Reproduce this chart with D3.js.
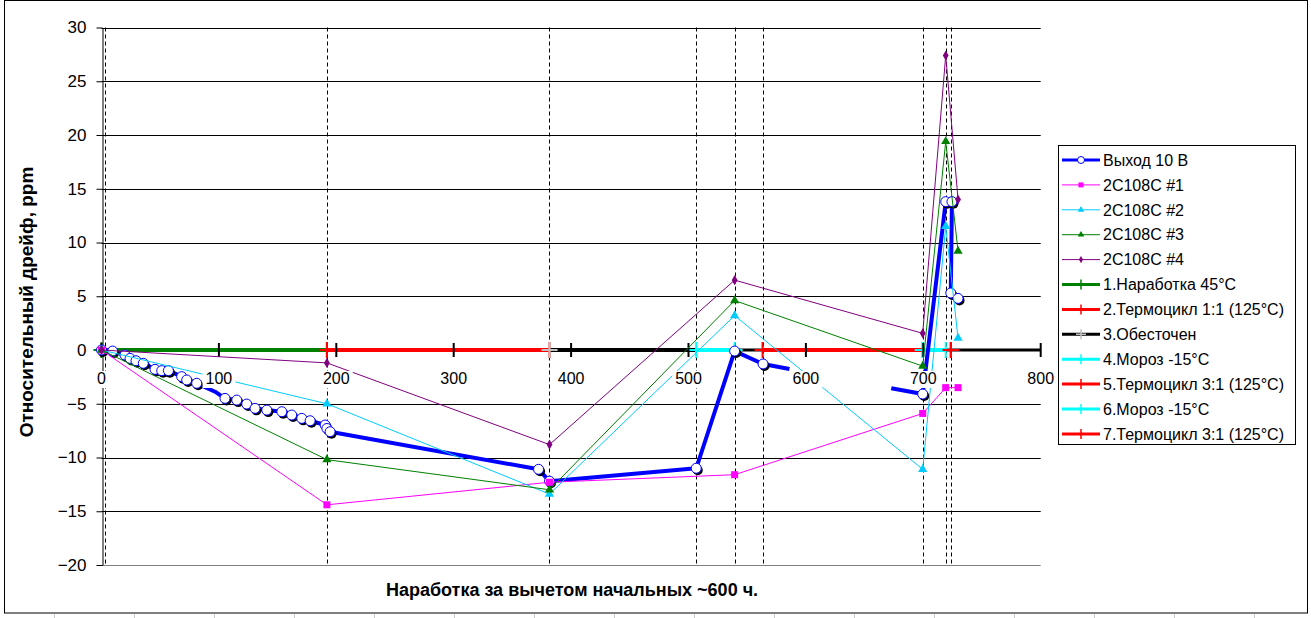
<!DOCTYPE html>
<html><head><meta charset="utf-8">
<script src="https://cdn.jsdelivr.net/npm/d3@7"></script>
<style>body{margin:0;background:#fff}svg{display:block}text{font-family:Arial,"Liberation Sans",sans-serif}</style>
</head><body>
<svg id="c" width="1311" height="618"></svg>
<script>
// ---- data ----
const xTicks = [0,100,200,300,400,500,600,700,800];
const yTicks = [-20,-15,-10,-5,0,5,10,15,20,25,30];
const eventX = [3,192,381.6,506.6,539.3,563.1,699.5,719.1,723.4];

const mainName = "Выход 10 В";
const mainX = [0,9.5,20,24.3,29.4,35.6,45.6,51.3,57,68.3,72.6,81.1,96.7,105.2,115.2,123.7,130.8,140.8,153.6,162,170.6,177.7,190.5,192,194.7,372.3,381.6,506.6,539.3,563.5,586,null,672.7,699.5,719.1,724.4,723.4,729.6];
const mainY = [0,-0.1,-0.47,-0.78,-1.0,-1.24,-1.8,-1.92,-1.92,-2.48,-2.79,-3.1,-3.88,-4.5,-4.66,-5.03,-5.43,-5.59,-5.74,-6.05,-6.36,-6.58,-6.98,-7.3,-7.6,-11.1,-12.2,-11.0,-0.1,-1.3,-1.77,null,-3.55,-4.1,13.8,13.8,5.3,4.8];
const mainMark = [1,1,1,1,1,1,1,1,1,1,1,1,0,1,1,1,1,1,1,1,1,1,1,1,1,1,1,1,1,1,0,0,0,1,1,1,1,1];

const devX = [0,192,381.6,539.3,699.5,719.1,729.6];
const dev1 = [0,-14.4,-12.3,-11.6,-5.9,-3.5,-3.5];
const dev2 = [0,-5.0,-13.4,3.2,-11.1,11.5,1.1];
const dev3 = [0,-10.2,-13.0,4.6,-1.5,19.4,9.2];
const dev4 = [0,-1.2,-8.8,6.5,1.55,27.4,14.0];
const devNames = ["2C108C #1","2C108C #2","2C108C #3","2C108C #4"];
const devColors = ["#ff00ff","#00ccff","#008000","#800080"];
const devMarkers = ["square","triangle","triangle","diamond"];

const phaseNames = ["1.Наработка 45°C","2.Термоцикл 1:1 (125°C)","3.Обесточен","4.Мороз -15°C","5.Термоцикл 3:1 (125°C)","6.Мороз -15°C","7.Термоцикл 3:1 (125°C)"];
const phaseStart = [0,192,381.6,506.6,563.1,699.5,723.4];
const phaseEnd   = [192,381.6,506.6,539.3,699.5,719.1,723.4];
const phaseColors = ["#008000","#ff0000","#000000","#00ffff","#ff0000","#00ffff","#ff0000"];
const phaseMarkColors = ["#008000","#ff0000","#c0c0c0","#00ffff","#ff0000","#00ffff","#ff0000"];

const xTitle = "Наработка за вычетом начальных ~600 ч.";
const yTitle = "Относительный дрейф, ppm";

// ---- drawing ----
const svg = d3.select("#c");
const FONT = 'Arial,"Liberation Sans",sans-serif';
svg.append("rect").attr("width",1311).attr("height",618).attr("fill","#fff");
const cols = d3.range(54.5,1311,80);
svg.append("g").selectAll("line").data(cols).join("line")
  .attr("x1",d=>d).attr("x2",d=>d).attr("y1",614).attr("y2",618).attr("stroke","#c8c8c8");
svg.append("rect").attr("x",4.5).attr("y",0.5).attr("width",1303).attr("height",612.5)
  .attr("fill","#fff").attr("stroke","#000");

const x = d3.scaleLinear().domain([0,800]).range([101.5,1040.7]);
const y = d3.scaleLinear().domain([-20,30]).range([565,27.5]);

// gridlines
svg.append("g").selectAll("line").data(yTicks.filter(v=>v>-20)).join("line")
  .attr("x1",x(0)).attr("x2",x(800)).attr("y1",d=>Math.round(y(d))+0.5).attr("y2",d=>Math.round(y(d))+0.5)
  .attr("stroke","#000").attr("stroke-width",1);
svg.append("line").attr("x1",x(0)).attr("x2",x(800)).attr("y1",565.5).attr("y2",565.5).attr("stroke","#808080");

// dashed event lines
svg.append("g").selectAll("line").data(eventX).join("line")
  .attr("x1",d=>Math.round(x(d))+0.5).attr("x2",d=>Math.round(x(d))+0.5)
  .attr("y1",y(30)).attr("y2",566).attr("stroke","#000").attr("stroke-dasharray","4,3");

// y axis
const yAxis = svg.append("g").attr("transform",`translate(${Math.round(x(0))+0.5},0)`)
  .call(d3.axisLeft(y).tickValues(yTicks).tickSize(6).tickSizeOuter(0).tickPadding(10).tickFormat(d3.format("d")));
yAxis.select(".domain").attr("stroke","#000");
yAxis.selectAll(".tick line").attr("stroke","#000");
yAxis.selectAll("text").attr("font-family",FONT).attr("font-size",17).attr("fill","#000");

// x axis line
svg.append("line").attr("x1",x(0)).attr("x2",x(800)).attr("y1",y(0)).attr("y2",y(0)).attr("stroke","#000").attr("stroke-width",3);

// phase lines
const phaseG = svg.append("g");
phaseNames.forEach((n,i)=>{
  phaseG.append("line").attr("x1",x(phaseStart[i])).attr("x2",x(phaseEnd[i]))
    .attr("y1",y(0)).attr("y2",y(0)).attr("stroke",phaseColors[i]).attr("stroke-width",4);
});
phaseNames.forEach((n,i)=>{
  [phaseStart[i],phaseEnd[i]].forEach(v=>{
    const cx=x(v), cy=y(0);
    phaseG.append("path").attr("d",`M${cx-8},${cy}H${cx+8}M${cx},${cy-8}V${cy+8}`)
      .attr("stroke",phaseMarkColors[i]).attr("stroke-width",2).attr("fill","none");
  });
});

// x ticks crossing axis
svg.append("g").selectAll("line").data(xTicks).join("line")
  .attr("x1",d=>x(d)).attr("x2",d=>x(d)).attr("y1",y(0)-7).attr("y2",y(0)+7)
  .attr("stroke","#000").attr("stroke-width",2);

// main series
const line = d3.line().defined(d=>d[1]!=null).x(d=>x(d[0])).y(d=>y(d[1]));
const mainPts = mainX.map((v,i)=>[v,mainY[i],mainMark[i]]);
svg.append("path").attr("d",line(mainPts)).attr("fill","none").attr("stroke","#0000ff")
  .attr("stroke-width",4).attr("stroke-linejoin","round");
const mPts = mainPts.filter(d=>d[2]);
const mg = svg.append("g");
mg.selectAll(".sh").data(mPts).join("circle").attr("cx",d=>x(d[0])+1.5).attr("cy",d=>y(d[1])+2).attr("r",5).attr("fill","#000");
mg.selectAll(".mk").data(mPts).join("circle").attr("cx",d=>x(d[0])).attr("cy",d=>y(d[1])).attr("r",5)
  .attr("fill","#fff").attr("stroke","#0000ff").attr("stroke-width",1);

// device series
function marker(g,type,cx,cy,color,s){
  if(type==="square") g.append("rect").attr("x",cx-s/2).attr("y",cy-s/2).attr("width",s).attr("height",s).attr("fill",color);
  else if(type==="triangle") g.append("path").attr("d",d3.symbol(d3.symbolTriangle, s*s*0.75)()).attr("transform",`translate(${cx},${cy})`).attr("fill",color);
  else g.append("path").attr("d",d3.symbol(d3.symbolDiamond, s*s*0.6)()).attr("transform",`translate(${cx},${cy})`).attr("fill",color);
}
const devData = [dev1,dev2,dev3,dev4];
devData.forEach((arr,k)=>{
  const pts = devX.map((v,i)=>[v,arr[i]]);
  const g = svg.append("g");
  g.append("path").attr("d",line(pts)).attr("fill","none").attr("stroke",devColors[k]).attr("stroke-width",1);
  pts.forEach(p=>marker(g,devMarkers[k],x(p[0]),y(p[1]),devColors[k],7));
});

// x tick labels with opaque background
const xl = svg.append("g");
xTicks.forEach(v=>{
  const t = xl.append("text").attr("x",x(v)).attr("y",384).attr("text-anchor","middle")
    .attr("font-family",FONT).attr("font-size",16).attr("fill","#000").text(d3.format("d")(v));
  const b = t.node().getBBox();
  xl.insert("rect","text").attr("x",b.x-3).attr("y",b.y+1).attr("width",b.width+6).attr("height",b.height).attr("fill","#fff");
});

// titles
svg.append("text").attr("x",572).attr("y",596).attr("text-anchor","middle").attr("font-family",FONT)
  .attr("font-weight","bold").attr("font-size",18).attr("fill","#000").text(xTitle);
svg.append("text").attr("transform","translate(33,302) rotate(-90)").attr("text-anchor","middle").attr("font-family",FONT)
  .attr("font-weight","bold").attr("font-size",19).attr("fill","#000").text(yTitle);

// legend
const lg = svg.append("g");
lg.append("rect").attr("x",1058.5).attr("y",145.5).attr("width",237).attr("height",299).attr("fill","#fff").attr("stroke","#000");
const entries = [{n:mainName,t:"main"}]
  .concat(devNames.map((n,k)=>({n,t:"dev",k})))
  .concat(phaseNames.map((n,k)=>({n,t:"phase",k})));
entries.forEach((e,i)=>{
  const cy = 160 + 24.9*i;
  if(e.t==="main"){
    lg.append("line").attr("x1",1062).attr("x2",1100).attr("y1",cy).attr("y2",cy).attr("stroke","#0000ff").attr("stroke-width",3);
    lg.append("circle").attr("cx",1081).attr("cy",cy).attr("r",3.5).attr("fill","#fff").attr("stroke","#0000ff");
  } else if(e.t==="dev"){
    lg.append("line").attr("x1",1062).attr("x2",1100).attr("y1",cy).attr("y2",cy).attr("stroke",devColors[e.k]).attr("stroke-width",1);
    marker(lg,devMarkers[e.k],1081,cy,devColors[e.k],5);
  } else {
    lg.append("line").attr("x1",1062).attr("x2",1100).attr("y1",cy).attr("y2",cy).attr("stroke",phaseColors[e.k]).attr("stroke-width",3);
    lg.append("path").attr("d",`M1076,${cy}H1086M1081,${cy-5}V${cy+5}`).attr("stroke",phaseMarkColors[e.k]).attr("stroke-width",1.5);
  }
  lg.append("text").attr("x",1103).attr("y",cy).attr("dy","0.36em").attr("font-family",FONT).attr("font-size",16).attr("fill","#000").text(e.n);
});
</script>
</body></html>
